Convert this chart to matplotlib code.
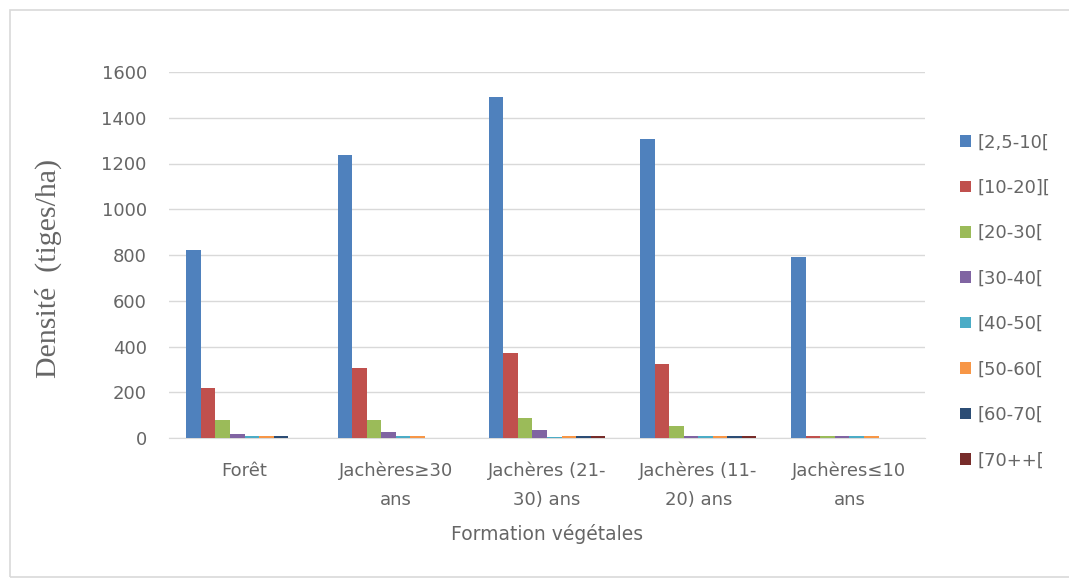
import numpy as np
import matplotlib
matplotlib.use("Agg")
import matplotlib.pyplot as plt
from matplotlib.patches import Rectangle

# ── Data ───────────────────────────────────────────────────────────────────────
formations = ["Forêt", "Jachères≥30\nans", "Jachères (21-\n30) ans",
              "Jachères (11-\n20) ans", "Jachères≤10\nans"]
classes = ["[2,5-10[", "[10-20][", "[20-30[", "[30-40[",
           "[40-50[", "[50-60[", "[60-70[", "[70++["]

d_2_10 = [820, 1237, 1490, 1307, 791]
d_10_20 = [219, 306, 372, 323, 8]
d_20_30 = [80, 80, 88, 52, 8]
d_30_40 = [16, 26, 35, 8, 8]
d_40_50 = [8, 7, 6, 7, 7]
d_50_60 = [8, 9, 7, 7, 9]
d_60_70 = [9, 0, 9, 9, 0]
d_70p = [0, 0, 9, 9, 0]

series = [d_2_10, d_10_20, d_20_30, d_30_40, d_40_50, d_50_60, d_60_70, d_70p]
colors = ["#4F81BD", "#C0504D", "#9BBB59", "#8064A2",
          "#4BACC6", "#F79646", "#2C4D75", "#772C2A"]

yticks = [0, 200, 400, 600, 800, 1000, 1200, 1400, 1600]

# ── Figure ─────────────────────────────────────────────────────────────────────
plt.rcParams["font.family"] = ["DejaVu Sans"]
fig = plt.figure(figsize=(10.69, 5.81), dpi=100)
fig.patches.append(Rectangle((10 / 1069, 4 / 581), 1.1, 567 / 581,
                             transform=fig.transFigure, fill=False,
                             edgecolor="#D9D9D9", lw=1.2))

ax = fig.add_axes([169 / 1069, 1 - 438 / 581, 756 / 1069, 366 / 581])

x = np.arange(len(formations))
n = len(series)
bw = 0.77 / n
for i, (vals, col, lab) in enumerate(zip(series, colors, classes)):
    ax.bar(x - 0.385 + bw * (i + 0.5), vals, bw, color=col, label=lab,
           zorder=3)

ax.set_xlim(-0.5, len(formations) - 0.5)
ax.set_ylim(0, 1600)
ax.set_yticks(yticks)
ax.set_xticks(x)
ax.set_xticklabels(formations, linespacing=1.75)
ax.tick_params(axis="both", length=0, colors="#666666", labelsize=13)
ax.tick_params(axis="x", pad=17)
ax.tick_params(axis="y", pad=16)
ax.grid(axis="y", color="#D9D9D9", lw=1, zorder=0)
for s in ["top", "right", "left"]:
    ax.spines[s].set_visible(False)
ax.spines["bottom"].set_color("#D9D9D9")

ax.set_xlabel("Formation végétales", fontsize=13.5, color="#666666",
              labelpad=11)
ax.set_ylabel("Densité  (tiges/ha)", fontsize=21.5, color="#666666",
              family="Liberation Serif")
ax.yaxis.set_label_coords(-0.142, 0.464)

fig.legend(loc="upper left", bbox_to_anchor=(944 / 1069, 1 - 117 / 581),
           frameon=False, fontsize=13, labelcolor="#666666",
           handlelength=0.6, handleheight=0.6, handletextpad=0.35,
           labelspacing=1.52)

fig.savefig("out.png", dpi=100)
plt.close(fig)
